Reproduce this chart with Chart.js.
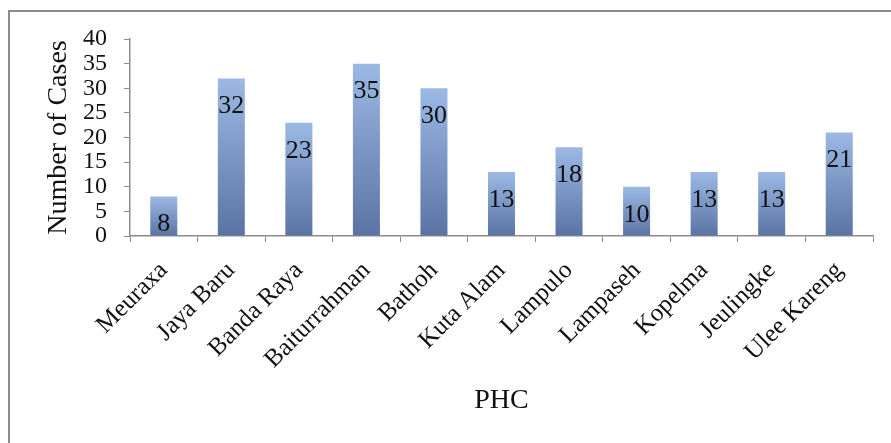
<!DOCTYPE html>
<html>
<head>
<meta charset="utf-8">
<script src="https://cdn.jsdelivr.net/npm/chart.js@4/dist/chart.umd.min.js"></script>
<style>
  html, body { margin: 0; padding: 0; background: #fff; overflow: hidden; }
  #frame { position: absolute; left: 8px; top: 10px; width: 940px; height: 500px; border: 2px solid #8c8c8c; }
  #c { position: absolute; left: 0; top: 0; }
</style>
</head>
<body>
<div id="frame"></div>
<canvas id="c" width="891" height="443"></canvas>
<script>
// 데이터
const categories = ['Meuraxa', 'Jaya Baru', 'Banda Raya', 'Baiturrahman', 'Bathoh', 'Kuta Alam',
                    'Lampulo', 'Lampaseh', 'Kopelma', 'Jeulingke', 'Ulee Kareng'];
const cases = [8, 32, 23, 35, 30, 13, 18, 10, 13, 13, 21];
const yTicks = [0, 5, 10, 15, 20, 25, 30, 35, 40];

const serif = '"Liberation Serif", "Times New Roman", serif';

// 막대별 세로 그라데이션
function barGradient(context) {
    const chart = context.chart;
    if (!chart.chartArea || context.parsed == null) return '#7f9bcb';
    const y = chart.scales.y;
    const top = y.getPixelForValue(context.parsed.y);
    const bottom = y.getPixelForValue(0);
    const g = chart.ctx.createLinearGradient(0, top, 0, bottom);
    g.addColorStop(0, '#9cb9e5');
    g.addColorStop(1, '#5a73a3');
    return g;
}

// 값 라벨 (막대 위쪽 안쪽)
const valueLabels = {
    id: 'valueLabels',
    afterDatasetsDraw(chart) {
        const ctx = chart.ctx;
        const meta = chart.getDatasetMeta(0);
        ctx.save();
        ctx.font = '26px ' + serif;
        ctx.fillStyle = '#111';
        ctx.textAlign = 'center';
        ctx.textBaseline = 'middle';
        meta.data.forEach((bar, i) => {
            ctx.fillText(String(cases[i]), bar.x, bar.y + 28);
        });
        ctx.restore();
    }
};

new Chart(document.getElementById('c').getContext('2d'), {
    type: 'bar',
    data: {
        labels: categories,
        datasets: [{
            data: cases,
            backgroundColor: barGradient,
            borderWidth: 0,
            barPercentage: 0.4,
            categoryPercentage: 1.0
        }]
    },
    options: {
        responsive: false,
        animation: false,
        layout: { padding: { left: 0, right: 18, top: 39, bottom: 0 } },
        plugins: { legend: { display: false }, tooltip: { enabled: false } },
        scales: {
            x: {
                grid: { display: true, drawOnChartArea: false, tickLength: 6, color: '#8c8c8c', offset: true },
                border: { color: '#8c8c8c', width: 1.5 },
                ticks: {
                    autoSkip: false, minRotation: 45, maxRotation: 45, padding: 14,
                    color: '#111', font: { family: serif, size: 25 }
                },
                title: {
                    display: true, text: 'PHC', color: '#111',
                    font: { family: serif, size: 28 }, padding: { top: 0, bottom: 26 }
                },
                afterFit(scale) { scale.height = 207; }
            },
            y: {
                min: 0, max: 40,
                grid: { display: true, drawOnChartArea: false, tickLength: 6, color: '#8c8c8c' },
                border: { color: '#8c8c8c', width: 1.5 },
                afterBuildTicks(scale) { scale.ticks = yTicks.map(v => ({ value: v })); },
                ticks: { autoSkip: false, padding: 17, color: '#111', font: { family: serif, size: 24 } },
                title: {
                    display: true, text: 'Number of Cases', color: '#111',
                    font: { family: serif, size: 28 }, padding: { top: 42, bottom: 0 }
                },
                afterFit(scale) { scale.width = 130; }
            }
        }
    },
    plugins: [valueLabels]
});
</script>
</body>
</html>
